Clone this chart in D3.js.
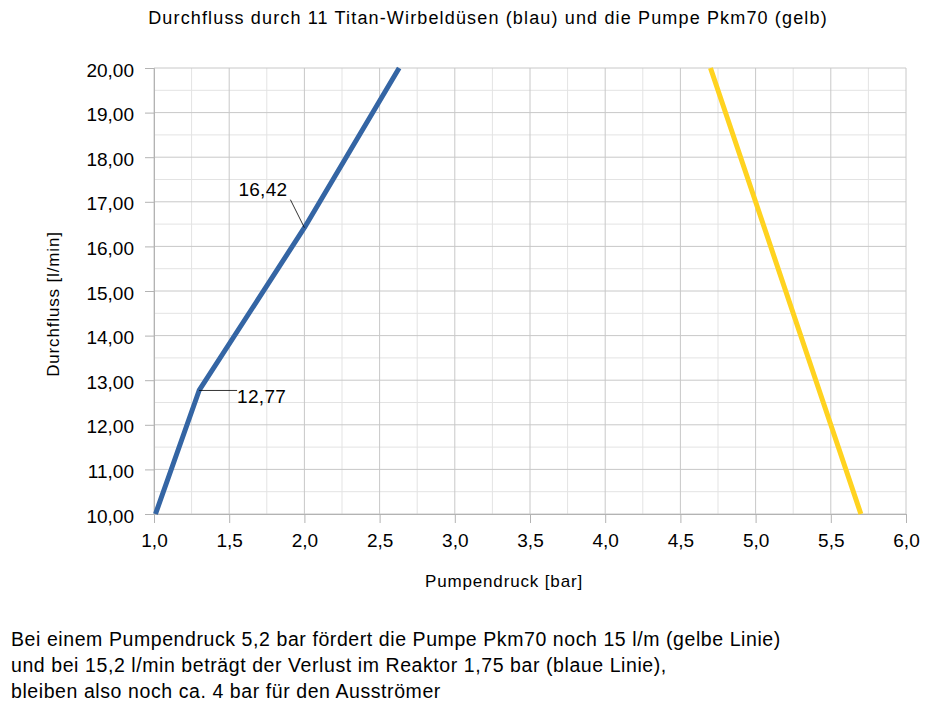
<!DOCTYPE html>
<html>
<head>
<meta charset="utf-8">
<script src="https://cdn.jsdelivr.net/npm/d3@7"></script>
<style>
  body { margin: 0; background: #fff; font-family: "Liberation Sans", Arial, sans-serif; }
  svg text { font-family: "Liberation Sans", Arial, sans-serif; fill: #000; }
</style>
</head>
<body>
<div id="chart"></div>
<script>
// data
var blueX = [1.01, 1.3, 2.0, 2.63];
var blueY = [10, 12.77, 16.42, 20];
var yellowX = [4.7, 5.0, 5.5, 5.7];
var yellowY = [20, 17, 12, 10];
var xTicks = [1.0, 1.5, 2.0, 2.5, 3.0, 3.5, 4.0, 4.5, 5.0, 5.5, 6.0];
var yTicks = [10, 11, 12, 13, 14, 15, 16, 17, 18, 19, 20];
var labelIdx = [1, 2]; // labelled points of the blue series
var noteLines = [
  "Bei einem Pumpendruck 5,2 bar fördert die Pumpe Pkm70 noch 15 l/m (gelbe Linie)",
  "und bei 15,2 l/min beträgt der Verlust im Reaktor 1,75 bar (blaue Linie),",
  "bleiben also noch ca. 4 bar für den Ausströmer"
];

var W = 931, H = 705;
var m = { left: 154, top: 68, right: 25, bottom: 191 };
var w = W - m.left - m.right, h = H - m.top - m.bottom;

var svg = d3.select("#chart").append("svg")
    .attr("width", W).attr("height", H);

var g = svg.append("g")
    .attr("transform", "translate(" + m.left + "," + m.top + ")");

var x = d3.scaleLinear().domain([1, 6]).range([0, w]);
var y = d3.scaleLinear().domain([10, 20]).range([h, 0]);

var fmt1 = function(d) { return d3.format(".1f")(d).replace(".", ","); };
var fmt2 = function(d) { return d3.format(".2f")(d).replace(".", ","); };

// minor grid
var xMinor = d3.range(1.25, 6, 0.5);
var yMinor = d3.range(10.5, 20, 1);
g.selectAll("line.xminor").data(xMinor).enter().append("line")
    .attr("x1", x).attr("x2", x).attr("y1", 0).attr("y2", h)
    .style("stroke", "#e3e3e3").style("stroke-width", 1);
g.selectAll("line.yminor").data(yMinor).enter().append("line")
    .attr("y1", y).attr("y2", y).attr("x1", 0).attr("x2", w)
    .style("stroke", "#e3e3e3").style("stroke-width", 1);

// major grid
g.selectAll("line.xmajor").data(xTicks).enter().append("line")
    .attr("x1", x).attr("x2", x).attr("y1", 0).attr("y2", h)
    .style("stroke", "#c8c8c8").style("stroke-width", 1);
g.selectAll("line.ymajor").data(yTicks).enter().append("line")
    .attr("y1", y).attr("y2", y).attr("x1", 0).attr("x2", w)
    .style("stroke", "#c8c8c8").style("stroke-width", 1);

// axes
var xAxis = g.append("g")
    .attr("transform", "translate(0," + h + ")")
    .call(d3.axisBottom(x).tickValues(xTicks).tickFormat(fmt1).tickSize(9).tickPadding(11));
var yAxis = g.append("g")
    .call(d3.axisLeft(y).tickValues(yTicks).tickFormat(fmt2).tickSize(9).tickPadding(11));
[xAxis, yAxis].forEach(function(a) {
  a.select(".domain").style("stroke", "#b3b3b3");
  a.selectAll(".tick line").style("stroke", "#b3b3b3");
  a.selectAll(".tick text").style("font-size", "19px").style("fill", "#000");
});
yAxis.selectAll(".tick text").attr("dy", "0.43em");
xAxis.selectAll(".tick text").attr("dy", "0.71em");

// series
var line = d3.line().x(function(d) { return x(d[0]); }).y(function(d) { return y(d[1]); });
var blue = d3.zip(blueX, blueY);
var yellow = d3.zip(yellowX, yellowY);

g.append("path").datum(blue).attr("d", line)
    .style("fill", "none").style("stroke", "#3465a4").style("stroke-width", 5)
    .style("stroke-linejoin", "round");
g.append("path").datum(yellow).attr("d", line)
    .style("fill", "none").style("stroke", "#ffd320").style("stroke-width", 5)
    .style("stroke-linejoin", "round");

// data labels with leader lines
var lbl = labelIdx.map(function(i) { return blue[i]; });
var offs = [
  { lx: 38, ly: 0, tx: 38, ty: 13 },
  { lx: -14, ly: -28, tx: -66, ty: -32 }
];
lbl.forEach(function(p, k) {
  var px = x(p[0]), py = y(p[1]), o = offs[k];
  g.append("line")
      .attr("x1", px).attr("y1", py).attr("x2", px + o.lx).attr("y2", py + o.ly)
      .style("stroke", "#000").style("stroke-width", 0.8);
  g.append("text")
      .attr("x", px + o.tx).attr("y", py + o.ty)
      .style("font-size", "19px").style("letter-spacing", "0.3px")
      .text(fmt2(p[1]));
});

// titles
svg.append("text")
    .attr("x", 488).attr("y", 24)
    .attr("text-anchor", "middle")
    .style("font-size", "18px").style("letter-spacing", "1.15px")
    .text("Durchfluss durch 11 Titan-Wirbeldüsen (blau) und die Pumpe Pkm70 (gelb)");

svg.append("text")
    .attr("x", 504).attr("y", 587)
    .attr("text-anchor", "middle")
    .style("font-size", "17px").style("letter-spacing", "0.85px")
    .text("Pumpendruck [bar]");

svg.append("text")
    .attr("transform", "translate(59,304) rotate(-90)")
    .attr("text-anchor", "middle")
    .style("font-size", "17px").style("letter-spacing", "0.85px")
    .text("Durchfluss [l/min]");

// note below chart
svg.append("g").selectAll("text").data(noteLines).enter().append("text")
    .attr("x", 11)
    .attr("y", function(d, i) { return 646 + i * 26; })
    .style("font-size", "19.5px").style("letter-spacing", "0.58px")
    .text(function(d) { return d; });
</script>
</body>
</html>
